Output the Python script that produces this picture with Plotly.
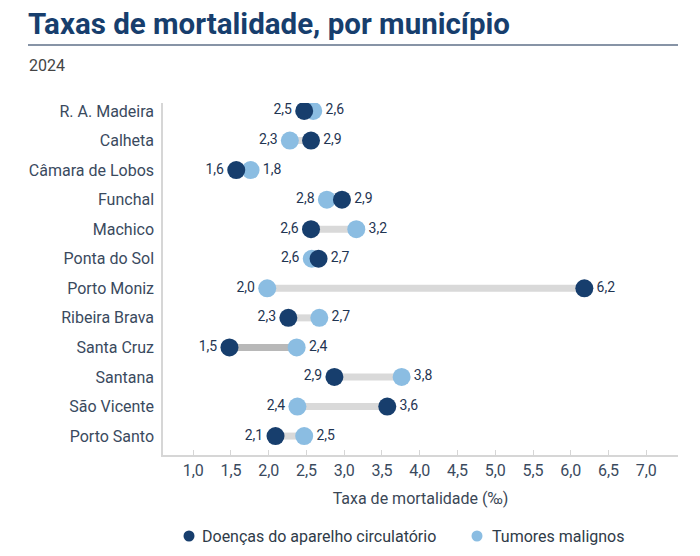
import plotly.graph_objects as go

municipios = ["R. A. Madeira", "Calheta", "Câmara de Lobos", "Funchal", "Machico",
              "Ponta do Sol", "Porto Moniz", "Ribeira Brava", "Santa Cruz", "Santana",
              "São Vicente", "Porto Santo"]
circulatorio = [2.47, 2.56, 1.57, 2.97, 2.56, 2.66, 6.18, 2.26, 1.48, 2.87, 3.57, 2.09]
tumores = [2.59, 2.28, 1.76, 2.77, 3.16, 2.57, 1.98, 2.67, 2.37, 3.76, 2.38, 2.47]
lbl_circ = ["2,5", "2,9", "1,6", "2,9", "2,6", "2,7", "6,2", "2,3", "1,5", "2,9", "3,6", "2,1"]
lbl_tum = ["2,6", "2,3", "1,8", "2,8", "3,2", "2,6", "2,0", "2,7", "2,4", "3,8", "2,4", "2,5"]
series_names = ["Doenças do aparelho circulatório", "Tumores malignos"]
x_ticks = [1.0, 1.5, 2.0, 2.5, 3.0, 3.5, 4.0, 4.5, 5.0, 5.5, 6.0, 6.5, 7.0]
x_ticklabels = [f"{v:.1f}".replace(".", ",") for v in x_ticks]

DARK = "#173e6d"
LIGHT = "#8bbde2"
TXT = "#1f3552"
FONT = "Roboto"

W, H = 700, 556
L, R, T, B = 163, 22, 103, 101
PW, PH = W - L - R, H - T - B

def px(x):
    return (x - L) / PW

def py(y):
    return (H - B - y) / PH

fig = go.Figure()

# connectors
for i, m in enumerate(municipios):
    col = "#b8b8b8" if m == "Santa Cruz" else "#d9d9d9"
    fig.add_trace(go.Scatter(x=[circulatorio[i], tumores[i]], y=[m, m], mode="lines",
                             line=dict(color=col, width=7), showlegend=False, hoverinfo="skip"))

pos_c = ["middle left" if c < t else "middle right" for c, t in zip(circulatorio, tumores)]
pos_t = ["middle right" if c < t else "middle left" for c, t in zip(circulatorio, tumores)]

fig.add_trace(go.Scatter(x=tumores, y=municipios, mode="markers+text", text=lbl_tum,
                         name=series_names[1],
                         textposition=pos_t, textfont=dict(family=FONT, size=14, color=TXT),
                         marker=dict(color=LIGHT, size=18), showlegend=False))
fig.add_trace(go.Scatter(x=circulatorio, y=municipios, mode="markers+text", text=lbl_circ,
                         name=series_names[0],
                         textposition=pos_c, textfont=dict(family=FONT, size=14, color=TXT),
                         marker=dict(color=DARK, size=18), showlegend=False))

# manual legend
legend_items = [(189, 200, DARK, series_names[0]), (477, 490, LIGHT, series_names[1])]
shapes = [dict(type="line", xref="paper", yref="paper", x0=px(28), x1=px(678),
               y0=py(45), y1=py(45), line=dict(color="#5f7189", width=1.5))]
annotations = [
    dict(text="<b>Taxas de mortalidade, por município</b>", xref="paper", yref="paper",
         x=px(26), y=py(24), xanchor="left", yanchor="middle", showarrow=False,
         font=dict(family=FONT, size=29.5, color="#173e6d")),
    dict(text="2024", xref="paper", yref="paper", x=px(27), y=py(65),
         xanchor="left", yanchor="middle", showarrow=False,
         font=dict(family=FONT, size=16, color="#444")),
]
for cx, tx, col, name in legend_items:
    shapes.append(dict(type="circle", xref="paper", yref="paper", xsizemode="pixel",
                       ysizemode="pixel", xanchor=px(cx), yanchor=py(536),
                       x0=-5.5, x1=5.5, y0=-5.5, y1=5.5, fillcolor=col, line=dict(width=0)))
    annotations.append(dict(text=name, xref="paper", yref="paper", x=px(tx), y=py(536),
                            xanchor="left", yanchor="middle", showarrow=False,
                            font=dict(family=FONT, size=16, color="#2f3b48")))

fig.update_layout(
    width=W, height=H,
    margin=dict(l=L, r=R, t=T, b=B, pad=0, autoexpand=False),
    paper_bgcolor="white", plot_bgcolor="white",
    font=dict(family=FONT, color="#3a4756"),
    showlegend=False,
    xaxis=dict(range=[0.6, 7.42], tickvals=x_ticks, ticktext=x_ticklabels, showgrid=False,
               zeroline=False, showline=True, linecolor="#d6d6d6", linewidth=1.5,
               ticks="inside", ticklen=5, tickcolor="#d6d6d6",
               tickfont=dict(family=FONT, size=16, color="#3a4a5e"),
               title=dict(text="Taxa de mortalidade (‰)", standoff=14,
                          font=dict(family=FONT, size=16, color="#3a4756"))),
    yaxis=dict(type="category", categoryorder="array", categoryarray=municipios,
               range=[11.64, -0.27], showgrid=False, zeroline=False, showline=True,
               linecolor="#d6d6d6", linewidth=1.5, ticks="", ticklabelstandoff=4,
               tickfont=dict(family=FONT, size=16, color="#3a4a5e")),
    annotations=annotations,
    shapes=shapes,
)

fig.write_html("out.html")
